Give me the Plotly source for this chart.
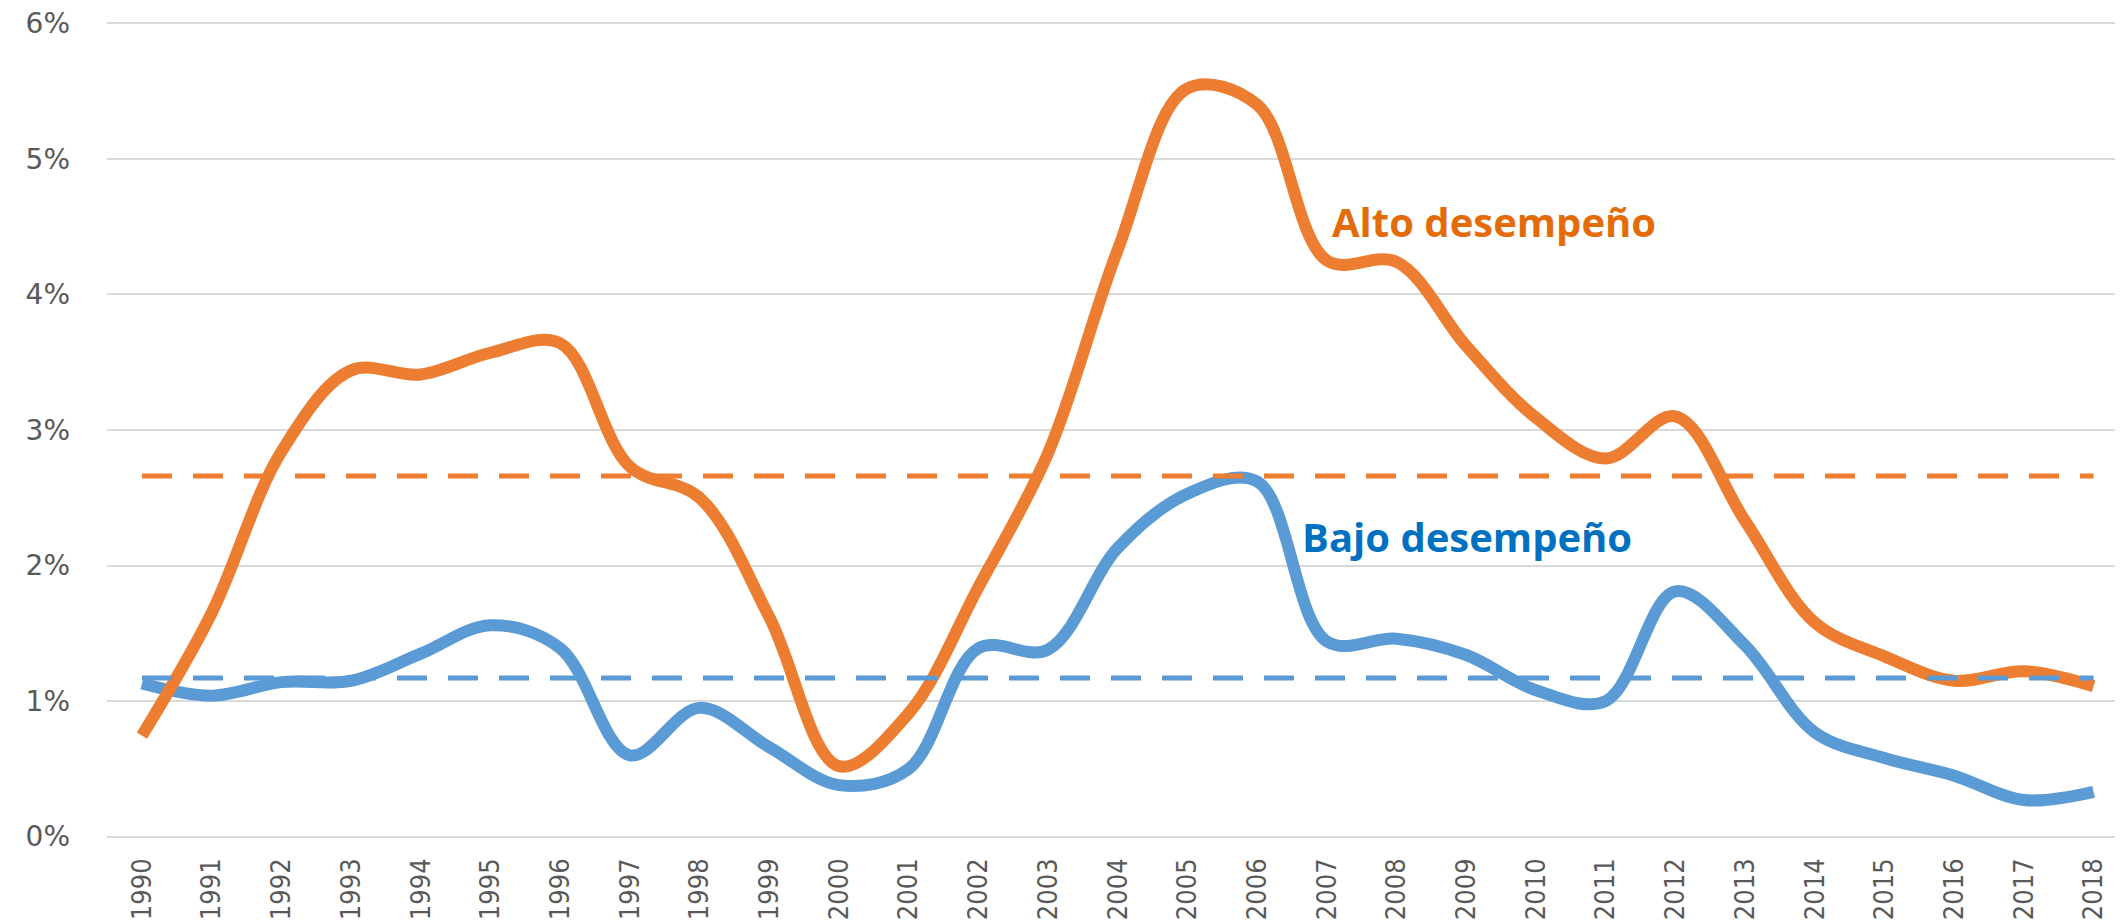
import plotly.graph_objects as go

years = list(range(1990, 2019))
alto = [0.745, 1.65, 2.84, 3.44, 3.41, 3.57, 3.64, 2.73, 2.50, 1.62,
        0.52, 0.91, 1.84, 2.83, 4.33, 5.52, 5.40, 4.25, 4.24, 3.62,
        3.09, 2.79, 3.10, 2.33, 1.58, 1.33, 1.15, 1.22, 1.11]
bajo = [1.13, 1.04, 1.14, 1.15, 1.35, 1.56, 1.39, 0.60, 0.95, 0.66,
        0.38, 0.50, 1.39, 1.38, 2.13, 2.53, 2.62, 1.44, 1.46, 1.34,
        1.08, 1.00, 1.81, 1.41, 0.77, 0.58, 0.45, 0.27, 0.33]
promedio_alto = 2.66
promedio_bajo = 1.17
y_ticks = [0, 1, 2, 3, 4, 5, 6]

ORANGE = "#ED7D31"
BLUE = "#5B9BD5"

fig = go.Figure()
fig.add_trace(go.Scatter(x=years, y=bajo, mode="lines",
                         line=dict(color=BLUE, width=12, shape="spline", smoothing=1.0),
                         showlegend=False))
fig.add_trace(go.Scatter(x=years, y=alto, mode="lines",
                         line=dict(color=ORANGE, width=12, shape="spline", smoothing=1.0),
                         showlegend=False))
fig.add_trace(go.Scatter(x=[years[0], years[-1]], y=[promedio_bajo, promedio_bajo], mode="lines",
                         line=dict(color=BLUE, width=5, dash="30px,21px"),
                         showlegend=False))
fig.add_trace(go.Scatter(x=[years[0], years[-1]], y=[promedio_alto, promedio_alto], mode="lines",
                         line=dict(color=ORANGE, width=5, dash="30px,21px"),
                         showlegend=False))

fig.add_annotation(x=2009.40, y=4.537, xref="x", yref="y", text="<b>Alto desempeño</b>",
                   showarrow=False, xanchor="center", yanchor="middle",
                   font=dict(family="Open Sans", size=40, color="#E36C09"))
fig.add_annotation(x=2009.01, y=2.214, xref="x", yref="y", text="<b>Bajo desempeño</b>",
                   showarrow=False, xanchor="center", yanchor="middle",
                   font=dict(family="Open Sans", size=40, color="#0070C0"))

# the page body adds an 8px offset, margins compensate for it
fig.update_layout(
    width=2123, height=921,
    margin=dict(l=99, r=0, t=14, b=91, autoexpand=False),
    paper_bgcolor="white", plot_bgcolor="white",
    showlegend=False,
)
fig.update_xaxes(
    range=[1989.498, 2018.537],
    tickmode="array", tickvals=years, ticktext=[str(y) for y in years],
    tickangle=-90, showgrid=False, zeroline=False, showline=False,
    ticks="", ticklabelstandoff=14, automargin=False, ticklabeloverflow="allow",
    tickfont=dict(family="DejaVu Sans Condensed", size=27, color="#595959"),
)
fig.update_yaxes(
    range=[-0.01, 6.01],
    tickmode="array", tickvals=y_ticks, ticktext=[f"{v}%" for v in y_ticks],
    showgrid=True, gridcolor="#D9D9D9", gridwidth=2,
    zeroline=False, showline=False, ticks="", ticklabelstandoff=36, automargin=False,
    ticklabeloverflow="allow",
    tickfont=dict(family="DejaVu Sans", size=28, color="#595959"),
)

fig.write_html("out.html")
